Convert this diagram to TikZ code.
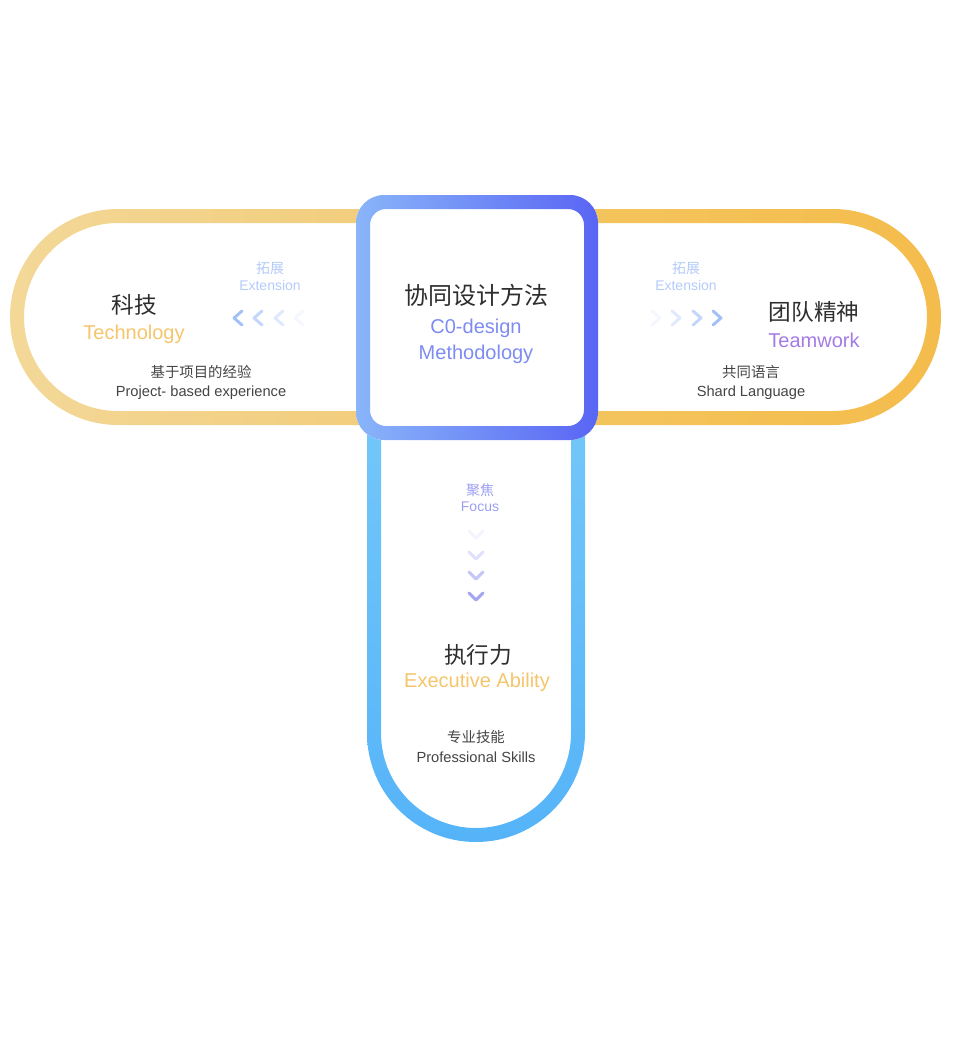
\documentclass[tikz,border=0pt]{standalone}
\usepackage{fontspec}
\setmainfont{Liberation Sans}
\newfontfamily\cjk{Noto Sans CJK SC}
\definecolor{goldA}{HTML}{F3D898}
\definecolor{goldB}{HTML}{F2CA74}
\definecolor{goldC}{HTML}{F4C762}
\definecolor{goldD}{HTML}{F4BC4C}
\definecolor{boxA}{HTML}{89B5F9}
\definecolor{boxB}{HTML}{5965F4}
\definecolor{skyA}{HTML}{7BCDF9}
\definecolor{skyB}{HTML}{55B3F8}
\definecolor{txtdark}{HTML}{2E2E2E}
\definecolor{txtgrey}{HTML}{444444}
\definecolor{techgold}{HTML}{F5C56B}
\definecolor{teampurple}{HTML}{A47AE6}
\definecolor{methblue}{HTML}{7E8CF2}
\definecolor{extblue}{HTML}{B3CBF9}
\definecolor{focusblue}{HTML}{9C9EF2}
\definecolor{chevblue}{HTML}{A3C0F9}
\definecolor{chevlav}{HTML}{A4A6F4}

\begin{document}
\begin{tikzpicture}[x=0.75pt,y=-0.75pt,
    title/.style={inner sep=0pt,text=txtdark,font=\cjk\fontsize{17}{20}\selectfont},
    entitle/.style={inner sep=0pt,font=\fontsize{15}{18}\selectfont},
    note/.style={inner sep=0pt,text=txtgrey,font=\cjk\fontsize{10.8}{13}\selectfont},
    ennote/.style={inner sep=0pt,text=txtgrey,font=\fontsize{11}{13}\selectfont},
    hint/.style={inner sep=0pt,font=\cjk\fontsize{10.5}{12}\selectfont},
    enhint/.style={inner sep=0pt,font=\fontsize{10.5}{12}\selectfont},
    chev/.style={line width=2.2pt,line cap=round,line join=round}]
    \useasboundingbox (0,0) rectangle (966,1052);
    % side and bottom bands
    \shade[left color=goldA,right color=goldB,even odd rule,rounded corners=81pt](10,209)rectangle(480,425)[rounded corners=70.5pt](24,223)rectangle(466,411);
    \shade[left color=goldC,right color=goldD,even odd rule,rounded corners=81pt](473,209)rectangle(941,425)[rounded corners=70.5pt](487,223)rectangle(927,411);
    \shade[top color=skyA,bottom color=skyB,even odd rule,rounded corners=81.75pt](367,300)rectangle(585,842)[rounded corners=71.25pt](381,314)rectangle(571,828);
    % centre box
    \fill[white,rounded corners=21pt](356,195)rectangle(598,440);
    \shade[left color=boxA,right color=boxB,even odd rule,rounded corners=21pt](356,195)rectangle(598,440)[rounded corners=12pt](370,209)rectangle(584,426);
    % texts
    \node[title](tech) at (134,305){科技};
    \node[entitle,text=techgold](techen) at (134,334){Technology};
    \node[note](technote) at (201,372){基于项目的经验};
    \node[ennote](technoteen) at (201,393){Project- based experience};
    \node[hint,text=extblue](extl) at (270,268){拓展};
    \node[enhint,text=extblue](extlen) at (270,285){Extension};
    \node[title,font=\cjk\fontsize{18}{21}\selectfont](codesign) at (476,295){协同设计方法};
    \node[entitle,text=methblue](codesignen) at (476,328){C0-design};
    \node[entitle,text=methblue](method) at (476,354){Methodology};
    \node[hint,text=extblue](extr) at (686,268){拓展};
    \node[enhint,text=extblue](extren) at (686,285){Extension};
    \node[title](team) at (814,312){团队精神};
    \node[entitle,text=teampurple](teamen) at (814,340){Teamwork};
    \node[note](teamnote) at (751,372){共同语言};
    \node[ennote](teamnoteen) at (751,393){Shard Language};
    \node[hint,text=focusblue](focus) at (480,490){聚焦};
    \node[enhint,text=focusblue](focusen) at (480,507){Focus};
    \node[title](exec) at (478,655){执行力};
    \node[entitle,text=techgold](execen) at (477,682){Executive Ability};
    \node[note](execnote) at (476,737){专业技能};
    \node[ennote](execnoteen) at (476,757){Professional Skills};
    % chevrons
    \foreach \cx/\op in {238/1,258/0.65,279/0.35,299/0.12}
        \draw[chev,chevblue,opacity=\op](\cx+4,311)--(\cx-4,318)--(\cx+4,325);
    \foreach \cx/\op in {656/0.12,676/0.35,697/0.65,717/1}
        \draw[chev,chevblue,opacity=\op](\cx-4,311)--(\cx+4,318)--(\cx-4,325);
    \foreach \cy/\op in {535/0.12,556/0.35,576/0.65,597/1}
        \draw[chev,chevlav,opacity=\op](469,\cy-4)--(476,\cy+3)--(483,\cy-4);
\end{tikzpicture}
\end{document}
